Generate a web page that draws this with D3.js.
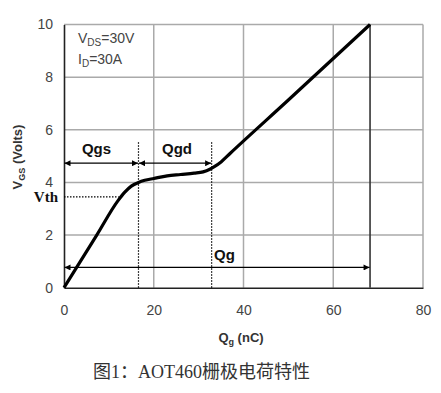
<!DOCTYPE html>
<html>
<head>
<meta charset="utf-8">
<script src="https://cdn.jsdelivr.net/npm/d3@7"></script>
<style>
  body { margin: 0; background: #fff; }
  svg { display: block; }
</style>
</head>
<body>
<div id="chart"></div>
<script>
// gate charge curve
var chargeQ = [0, 7.3, 12, 13.5, 15, 16.6, 18, 20, 23, 26, 29, 31, 32.5, 33.5, 35, 37, 50, 68.2]
var gateV   = [0, 2.0, 3.3, 3.62, 3.86, 4.0, 4.08, 4.15, 4.25, 4.3, 4.35, 4.4, 4.5, 4.6, 4.78, 5.1, 7.13, 10]
var xTicks = [0, 20, 40, 60, 80]
var yTicks = [0, 2, 4, 6, 8, 10]
var qgsEnd = 16.6, qgdEnd = 32.9, qgEnd = 68.2, vth = 3.45
var arrowV = 4.73, qgArrowV = 0.77

var W = 441, H = 393
var x = d3.scaleLinear().domain([0, 80]).range([64, 423])
var y = d3.scaleLinear().domain([0, 10]).range([287.7, 24.5])

var svg = d3.select("#chart").append("svg").attr("width", W).attr("height", H)
var sans = "Liberation Sans, Arial, sans-serif"

var defs = svg.append("defs")
defs.append("marker").attr("id", "ah").attr("viewBox", "0 0 10 10")
  .attr("refX", 10).attr("refY", 5).attr("markerWidth", 8).attr("markerHeight", 6)
  .attr("markerUnits", "userSpaceOnUse").attr("orient", "auto-start-reverse")
  .append("path").attr("d", "M0,0L10,5L0,10z").attr("fill", "#000")

// grid
var grid = svg.append("g").attr("stroke", "#aaa").attr("stroke-width", 1.5)
grid.selectAll(".gx").data(xTicks.slice(1)).enter().append("line")
  .attr("x1", d => x(d)).attr("x2", d => x(d)).attr("y1", y(0)).attr("y2", y(10))
grid.selectAll(".gy").data(yTicks.slice(1)).enter().append("line")
  .attr("x1", x(0)).attr("x2", x(80)).attr("y1", d => y(d)).attr("y2", d => y(d))

// axes
var xAxis = svg.append("g").attr("transform", "translate(0," + y(0) + ")")
  .call(d3.axisBottom(x).tickValues(xTicks).tickSize(0).tickPadding(17))
var yAxis = svg.append("g").attr("transform", "translate(" + x(0) + ",0)")
  .call(d3.axisLeft(y).tickValues(yTicks).tickSize(0).tickPadding(11))
;[xAxis, yAxis].forEach(function(a){
  a.select(".domain").attr("stroke", "#222").attr("stroke-width", 1.6)
  a.selectAll("text").attr("font-family", sans).attr("font-size", 14).attr("fill", "#444")
})

// Qg end line
svg.append("line").attr("x1", x(qgEnd)).attr("x2", x(qgEnd))
  .attr("y1", y(0)).attr("y2", y(10)).attr("stroke", "#333").attr("stroke-width", 1.6)

// dotted markers
svg.selectAll(".dv").data([qgsEnd, qgdEnd]).enter().append("line")
  .attr("x1", d => x(d)).attr("x2", d => x(d)).attr("y1", y(0)).attr("y2", y(5.55))
  .attr("stroke", "#000").attr("stroke-width", 1.2).attr("stroke-dasharray", "1.5,1.5")
svg.append("line").attr("x1", x(0)).attr("x2", x(12.2)).attr("y1", y(vth)).attr("y2", y(vth))
  .attr("stroke", "#000").attr("stroke-width", 1.2).attr("stroke-dasharray", "1.5,1.5")

// curve
var line = d3.line().x(d => x(d[0])).y(d => y(d[1])).curve(d3.curveMonotoneX)
svg.append("path").datum(d3.zip(chargeQ, gateV)).attr("d", line)
  .attr("fill", "none").attr("stroke", "#000").attr("stroke-width", 3.2).attr("stroke-linejoin", "round")

// arrows
var arrows = [[0, qgsEnd, arrowV], [qgsEnd, qgdEnd, arrowV], [0, qgEnd, qgArrowV]]
svg.selectAll(".ar").data(arrows).enter().append("line")
  .attr("x1", d => x(d[0]) + 0.5).attr("x2", d => x(d[1]) - 0.5)
  .attr("y1", d => y(d[2])).attr("y2", d => y(d[2]))
  .attr("stroke", "#000").attr("stroke-width", 1.3)
  .attr("marker-start", "url(#ah)").attr("marker-end", "url(#ah)")

// labels
var lab = svg.append("g").attr("font-family", sans).attr("font-weight", "bold").attr("font-size", 15).attr("fill", "#111")
lab.append("text").attr("x", 96.5).attr("y", 154).attr("text-anchor", "middle").text("Qgs")
lab.append("text").attr("x", 177).attr("y", 154).attr("text-anchor", "middle").text("Qgd")
lab.append("text").attr("x", 214).attr("y", 260).text("Qg")
svg.append("text").attr("x", 58).attr("y", 202).attr("text-anchor", "end")
  .attr("font-family", "Liberation Serif, Times New Roman, serif").attr("font-weight", "bold")
  .attr("font-size", 15).attr("fill", "#111").text("Vth")

// conditions
var cond = svg.append("g").attr("font-family", sans).attr("font-size", 14).attr("fill", "#444")
var t1 = cond.append("text").attr("x", 78).attr("y", 43)
t1.append("tspan").text("V")
t1.append("tspan").attr("font-size", 10).attr("dy", 3).text("DS")
t1.append("tspan").attr("dy", -3).text("=30V")
var t2 = cond.append("text").attr("x", 78).attr("y", 64)
t2.append("tspan").text("I")
t2.append("tspan").attr("font-size", 10).attr("dy", 3).text("D")
t2.append("tspan").attr("dy", -3).text("=30A")

// axis titles
var xt = svg.append("text").attr("x", 241).attr("y", 342).attr("text-anchor", "middle")
  .attr("font-family", sans).attr("font-weight", "bold").attr("font-size", 13).attr("fill", "#333")
xt.append("tspan").text("Q")
xt.append("tspan").attr("font-size", 9).attr("dy", 3).text("g")
xt.append("tspan").attr("dy", -3).text(" (nC)")
var yt = svg.append("text").attr("transform", "translate(22,157) rotate(-90)").attr("text-anchor", "middle")
  .attr("font-family", sans).attr("font-weight", "bold").attr("font-size", 13).attr("fill", "#333")
yt.append("tspan").text("V")
yt.append("tspan").attr("font-size", 9).attr("dy", 3).text("GS")
yt.append("tspan").attr("dy", -3).text(" (Volts)")

// caption
svg.append("text").attr("x", 93).attr("y", 378)
  .attr("font-family", "Liberation Serif, Noto Sans CJK SC, serif").attr("font-size", 18).attr("fill", "#333")
  .text("图1：AOT460栅极电荷特性")
</script>
</body>
</html>
